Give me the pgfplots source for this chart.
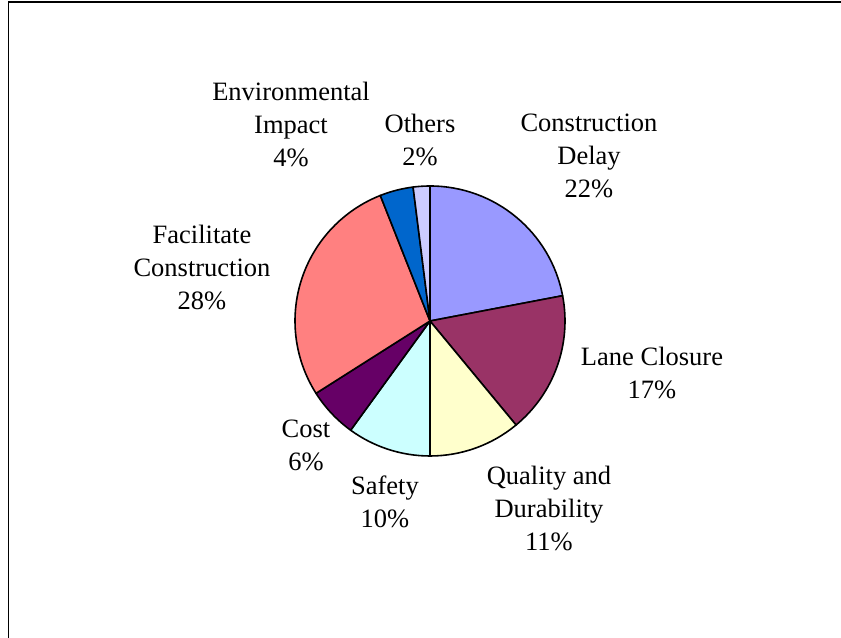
\documentclass[border=0pt]{standalone}
\usepackage{pgfplots}
\usepackage{pgfplotstable}
\pgfplotsset{compat=1.18}
\usepackage{fontspec}
\setmainfont{Liberation Serif}
\definecolor{cDelay}{HTML}{9999FF}
\definecolor{cLane}{HTML}{993366}
\definecolor{cQual}{HTML}{FFFFCC}
\definecolor{cSafe}{HTML}{CCFFFF}
\definecolor{cCost}{HTML}{660066}
\definecolor{cFac}{HTML}{FF8080}
\definecolor{cEnv}{HTML}{0066CC}
\definecolor{cOth}{HTML}{CCCCFF}
\pgfplotstableread[col sep=comma]{
label,value,color
Construction Delay,22,cDelay
Lane Closure,17,cLane
Quality and Durability,11,cQual
Safety,10,cSafe
Cost,6,cCost
Facilitate Construction,28,cFac
Environmental Impact,4,cEnv
Others,2,cOth
}\piedata
\begin{document}
\begin{tikzpicture}
\begin{axis}[
  at={(0,0)}, anchor=south west,
  width=841bp, height=638bp, scale only axis,
  xmin=0, xmax=841, ymin=0, ymax=638,
  hide axis, clip=false,
]
\pgfplotsextra{%
  \draw[line width=1.5bp] (axis cs:8.5,0) -- (axis cs:8.5,636) -- (axis cs:841,636);
  \gdef\startang{90}%
  \foreach \i in {0,...,7}{%
    \pgfplotstablegetelem{\i}{value}\of\piedata \let\v\pgfplotsretval
    \pgfplotstablegetelem{\i}{color}\of\piedata \let\c\pgfplotsretval
    \pgfmathsetmacro\endang{\startang-3.6*\v}%
    \filldraw[fill=\c, draw=black, line width=1.6bp, line join=round]
      (axis cs:430,317) -- ++(\startang:135bp)
      arc[start angle=\startang, end angle=\endang, radius=135bp] -- cycle;
    \xdef\startang{\endang}%
  }%
  \begin{scope}[every node/.style={align=center, inner sep=0pt, font=\fontsize{26.5bp}{33bp}\selectfont}]
  \node at (axis cs:291,514) {Environmental\\Impact\\4\%};
  \node at (axis cs:420,498) {Others\\2\%};
  \node at (axis cs:589,482) {Construction\\Delay\\22\%};
  \node at (axis cs:202,371) {Facilitate\\Construction\\28\%};
  \node at (axis cs:652,265) {Lane Closure\\17\%};
  \node at (axis cs:549,130) {Quality and\\Durability\\11\%};
  \node at (axis cs:385,136) {Safety\\10\%};
  \node at (axis cs:306,193) {Cost\\6\%};
  \end{scope}
}
\end{axis}
\pgfresetboundingbox
\path (0,0) rectangle (841bp,638bp);
\end{tikzpicture}
\end{document}
